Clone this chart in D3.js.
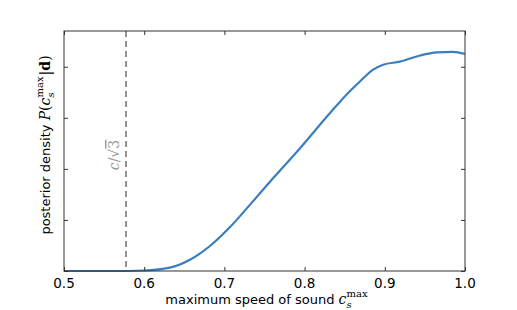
<!DOCTYPE html>
<html>
<head>
<meta charset="utf-8">
<script src="https://cdn.jsdelivr.net/npm/d3@7"></script>
<style>
body { margin: 0; background: white; }
svg { display: block; }
</style>
</head>
<body>
<svg></svg>
<script>
// posterior curve
var speeds  = [0.50, 0.56, 0.60, 0.632, 0.657, 0.682, 0.707, 0.732, 0.762, 0.794, 0.832, 0.857, 0.869, 0.885, 0.898, 0.919, 0.944, 0.965, 0.985, 1.00];
var density = [0.00, 0.00, 0.01, 0.065, 0.22, 0.49, 0.86, 1.30, 1.84, 2.40, 3.10, 3.53, 3.71, 3.94, 4.04, 4.10, 4.22, 4.28, 4.29, 4.25];
var xTicks = [0.5, 0.6, 0.7, 0.8, 0.9, 1.0];
var yTicks = [0, 1, 2, 3, 4];
var marker = 1 / Math.sqrt(3);

var width = 517, height = 310;
var m = {left: 64, right: 52, top: 31, bottom: 39};
var svg = d3.select("svg").attr("width", width).attr("height", height);

var x = d3.scaleLinear().domain([0.5, 1.0]).range([m.left, width - m.right]);
var y = d3.scaleLinear().domain([0, 4.7]).range([height - m.bottom, m.top]);

var line = d3.line()
	.x(function(d){return x(d[0])})
	.y(function(d){return y(d[1])})
	.curve(d3.curveMonotoneX);

var pts = speeds.map(function(s, i){return [s, density[i]]});

svg.append("line")
	.attr("x1", x(marker)).attr("x2", x(marker))
	.attr("y1", y.range()[1]).attr("y2", y.range()[0])
	.attr("stroke", "#777").attr("stroke-width", 1.6)
	.attr("stroke-dasharray", "6,4");

svg.append("path").datum(pts)
	.attr("d", line)
	.attr("fill", "none")
	.attr("stroke", "#3a7ebf")
	.attr("stroke-width", 2.2);

// axes with inward ticks on all four sides
function noText(g){ g.selectAll("text").remove(); g.select(".domain").remove(); }
svg.append("g").attr("transform", "translate(0," + y(0) + ")")
	.call(d3.axisTop(x).tickValues(xTicks).tickSize(4))
	.call(noText);
svg.append("g").attr("transform", "translate(0," + m.top + ")")
	.call(d3.axisBottom(x).tickValues(xTicks).tickSize(4))
	.call(noText);
svg.append("g").attr("transform", "translate(" + m.left + ",0)")
	.call(d3.axisRight(y).tickValues(yTicks).tickSize(4))
	.call(noText);
svg.append("g").attr("transform", "translate(" + (width - m.right) + ",0)")
	.call(d3.axisLeft(y).tickValues(yTicks).tickSize(4))
	.call(noText);
svg.selectAll(".tick line").attr("stroke", "#333");

svg.append("rect")
	.attr("x", m.left).attr("y", m.top)
	.attr("width", width - m.left - m.right)
	.attr("height", height - m.top - m.bottom)
	.attr("fill", "none").attr("stroke", "#333").attr("stroke-width", 1);

svg.selectAll("text.xt").data(xTicks).enter().append("text")
	.attr("class", "xt")
	.attr("x", function(d){return x(d)})
	.attr("y", y(0) + 17)
	.attr("text-anchor", "middle")
	.attr("font-family", "DejaVu Sans")
	.attr("font-size", 13.5)
	.text(function(d){return d.toFixed(1)});

// x label
var xl = svg.append("text")
	.attr("x", (m.left + width - m.right) / 2 + 2)
	.attr("y", 304)
	.attr("text-anchor", "middle")
	.attr("font-family", "DejaVu Sans")
	.attr("font-size", 13);
xl.append("tspan").text("maximum speed of sound ");
xl.append("tspan").attr("font-family", "DejaVu Serif").attr("font-style", "italic").attr("font-size", 14).text("c");
xl.append("tspan").attr("font-family", "DejaVu Serif").attr("font-style", "italic").attr("font-size", 10).attr("dy", 4).text("s");
xl.append("tspan").attr("font-family", "DejaVu Serif").attr("font-size", 10).attr("dx", -5).attr("dy", -11).text("max");

// y label
var yl = svg.append("text")
	.attr("transform", "translate(50," + ((m.top + height - m.bottom) / 2 - 6) + ") rotate(-90)")
	.attr("text-anchor", "middle")
	.attr("font-family", "DejaVu Sans")
	.attr("font-size", 13);
yl.append("tspan").text("posterior density ");
yl.append("tspan").attr("font-family", "DejaVu Serif").attr("font-style", "italic").attr("font-size", 14).text("P");
yl.append("tspan").attr("font-family", "DejaVu Serif").attr("font-size", 14).text("(");
yl.append("tspan").attr("font-family", "DejaVu Serif").attr("font-style", "italic").attr("font-size", 14).text("c");
yl.append("tspan").attr("font-family", "DejaVu Serif").attr("font-style", "italic").attr("font-size", 10).attr("dy", 4).text("s");
yl.append("tspan").attr("font-family", "DejaVu Serif").attr("font-size", 10).attr("dx", -5).attr("dy", -11).text("max");
yl.append("tspan").attr("font-family", "DejaVu Serif").attr("font-size", 14).attr("dx", 1).attr("dy", 7).text("|");
yl.append("tspan").attr("font-family", "DejaVu Serif").attr("font-weight", "bold").attr("font-size", 14).text("d");
yl.append("tspan").attr("font-family", "DejaVu Serif").attr("font-size", 14).text(")");

// c/sqrt(3) marker label
var ml = svg.append("text")
	.attr("transform", "translate(" + (x(marker) - 7) + ",155) rotate(-90)")
	.attr("text-anchor", "middle")
	.attr("font-family", "DejaVu Serif")
	.attr("font-size", 14)
	.attr("fill", "#999");
ml.append("tspan").attr("font-style", "italic").text("c");
ml.append("tspan").text("/\u221A");
ml.append("tspan").attr("text-decoration", "overline").text("3");
</script>
</body>
</html>
